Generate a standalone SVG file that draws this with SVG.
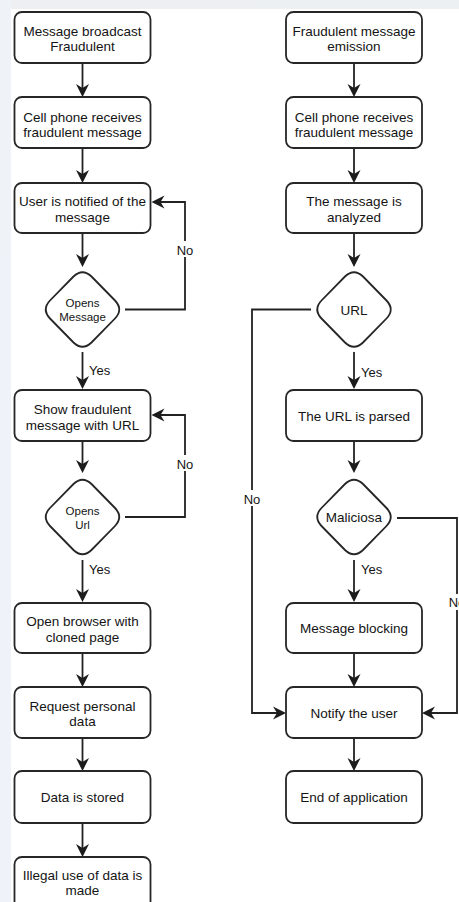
<svg xmlns="http://www.w3.org/2000/svg" width="459" height="902" viewBox="0 0 459 902">
<style>
.box{fill:#fff;stroke:#262626;stroke-width:1.8}
.t{font-family:"Liberation Sans",Arial,sans-serif;font-size:13.5px;fill:#141414;text-anchor:middle}
.ts{font-family:"Liberation Sans",Arial,sans-serif;font-size:11.5px;fill:#141414;text-anchor:middle}
.lbl{font-family:"Liberation Sans",Arial,sans-serif;font-size:13px;fill:#141414}
.c{fill:none;stroke:#222;stroke-width:1.8;marker-end:url(#arr)}
.cn{fill:none;stroke:#222;stroke-width:1.8}
.lb{fill:#fff}
</style>
<defs>
<marker id="arr" viewBox="-14 -7 15 14" markerWidth="15" markerHeight="14" refX="-8" refY="0" orient="auto" markerUnits="userSpaceOnUse">
<path d="M-13,-6.5 L0,0 L-13,6.5 L-9,0 Z" fill="#1c1c1c"/>
</marker>
</defs>
<rect width="459" height="902" fill="#fff"/>
<g id="background" opacity="0.55">
<rect x="0" y="0" width="459" height="9" fill="#dfe3ea"/>
<rect x="0" y="0" width="11" height="902" fill="#e2e8f2"/>
</g>

<g id="connectors">
<path class="c" d="M82.5,63 V89"/>
<path class="c" d="M82.5,149 V175"/>
<path class="c" d="M82.5,233 V259"/>
<path class="c" d="M82.5,352 V381"/>
<path class="c" d="M82.5,441 V465"/>
<path class="c" d="M82.5,560 V594"/>
<path class="c" d="M82.5,653 V679"/>
<path class="c" d="M82.5,738 V763"/>
<path class="c" d="M82.5,823 V849"/>
<path class="c" d="M125,309.5 H185 V202 H159.5"/>
<path class="c" d="M125,517 H185 V415 H159.5"/>
<path class="c" d="M354,63 V89"/>
<path class="c" d="M354,149 V175"/>
<path class="c" d="M354,233 V259"/>
<path class="c" d="M354,352 V381"/>
<path class="c" d="M354,441 V465"/>
<path class="c" d="M354,560 V594"/>
<path class="c" d="M354,653 V679"/>
<path class="c" d="M354,738 V763"/>
<path class="c" d="M311,309.5 H252 V713 H278"/>
<path class="c" d="M397,518 H457 V713 H430"/>
<rect class="lb" x="176" y="241" width="18" height="16"/>
<text class="lbl" x="185" y="254.5" text-anchor="middle">No</text>
<rect class="lb" x="176" y="455" width="18" height="16"/>
<text class="lbl" x="185" y="468.5" text-anchor="middle">No</text>
<rect class="lb" x="243" y="490" width="18" height="16"/>
<text class="lbl" x="252" y="503.5" text-anchor="middle">No</text>
<rect class="lb" x="448" y="594" width="18" height="16"/>
<text class="lbl" x="457" y="607" text-anchor="middle">No</text>
<text class="lbl" x="89" y="375">Yes</text>
<text class="lbl" x="89" y="574">Yes</text>
<text class="lbl" x="361" y="377">Yes</text>
<text class="lbl" x="361" y="574">Yes</text>
</g>

<g id="n1"><rect class="box" x="14.5" y="12" width="136" height="51" rx="7.5"/>
<text class="t" x="82.5" y="35.5">Message broadcast</text><text class="t" x="82.5" y="51">Fraudulent</text></g>
<g id="n2"><rect class="box" x="14.5" y="97" width="136" height="51" rx="7.5"/>
<text class="t" x="82.5" y="121.5">Cell phone receives</text><text class="t" x="82.5" y="137">fraudulent message</text></g>
<g id="n3"><rect class="box" x="14.5" y="183" width="136" height="50" rx="7.5"/>
<text class="t" x="82.5" y="206">User is notified of the</text><text class="t" x="82.5" y="221.5">message</text></g>
<g id="d1"><path class="box" d="M91.5,276.5 L115,300.5 Q123.5,309.5 115,318.5 L91.5,342.5 Q82.5,351 73.5,342.5 L50,318.5 Q41.5,309.5 50,300.5 L73.5,276.5 Q82.5,268 91.5,276.5 Z"/>
<text class="ts" x="82.5" y="306.5">Opens</text><text class="ts" x="82.5" y="321">Message</text></g>
<g id="n4"><rect class="box" x="14.5" y="390" width="136" height="51" rx="7.5"/>
<text class="t" x="82.5" y="414">Show fraudulent</text><text class="t" x="82.5" y="429.5">message with URL</text></g>
<g id="d2"><path class="box" d="M91.5,484 L115,508 Q123.5,517 115,526 L91.5,550 Q82.5,558.5 73.5,550 L50,526 Q41.5,517 50,508 L73.5,484 Q82.5,475.5 91.5,484 Z"/>
<text class="ts" x="82.5" y="515">Opens</text><text class="ts" x="82.5" y="529">Url</text></g>
<g id="n5"><rect class="box" x="14.5" y="603" width="136" height="50" rx="7.5"/>
<text class="t" x="82.5" y="626">Open browser with</text><text class="t" x="82.5" y="641.5">cloned page</text></g>
<g id="n6"><rect class="box" x="14.5" y="687" width="136" height="51" rx="7.5"/>
<text class="t" x="82.5" y="710.5">Request personal</text><text class="t" x="82.5" y="726">data</text></g>
<g id="n7"><rect class="box" x="14.5" y="771" width="136" height="52" rx="7.5"/>
<text class="t" x="82.5" y="801.5">Data is stored</text></g>
<g id="n8"><rect class="box" x="14.5" y="857" width="136" height="52" rx="7.5"/>
<text class="t" x="82.5" y="880">Illegal use of data is</text><text class="t" x="82.5" y="895">made</text></g>

<g id="r1"><rect class="box" x="286" y="12" width="136" height="51" rx="7.5"/>
<text class="t" x="354" y="35.5">Fraudulent message</text><text class="t" x="354" y="51">emission</text></g>
<g id="r2"><rect class="box" x="286" y="97" width="136" height="51" rx="7.5"/>
<text class="t" x="354" y="121.5">Cell phone receives</text><text class="t" x="354" y="137">fraudulent message</text></g>
<g id="r3"><rect class="box" x="286" y="183" width="136" height="50" rx="7.5"/>
<text class="t" x="354" y="206">The message is</text><text class="t" x="354" y="221.5">analyzed</text></g>
<g id="d3"><path class="box" d="M363,276.5 L386.5,300.5 Q395,309.5 386.5,318.5 L363,342.5 Q354,351 345,342.5 L321.5,318.5 Q313,309.5 321.5,300.5 L345,276.5 Q354,268 363,276.5 Z"/>
<text class="t" x="354" y="314.5">URL</text></g>
<g id="r4"><rect class="box" x="286" y="390" width="136" height="51" rx="7.5"/>
<text class="t" x="354" y="420.5">The URL is parsed</text></g>
<g id="d4"><path class="box" d="M363,484 L386.5,508 Q395,517 386.5,526 L363,550 Q354,558.5 345,550 L321.5,526 Q313,517 321.5,508 L345,484 Q354,475.5 363,484 Z"/>
<text class="t" x="354" y="522">Maliciosa</text></g>
<g id="r5"><rect class="box" x="286" y="603" width="136" height="50" rx="7.5"/>
<text class="t" x="354" y="633">Message blocking</text></g>
<g id="r6"><rect class="box" x="286" y="687" width="136" height="51" rx="7.5"/>
<text class="t" x="354" y="717.5">Notify the user</text></g>
<g id="r7"><rect class="box" x="286" y="771" width="136" height="52" rx="7.5"/>
<text class="t" x="354" y="801.5">End of application</text></g>
</svg>
